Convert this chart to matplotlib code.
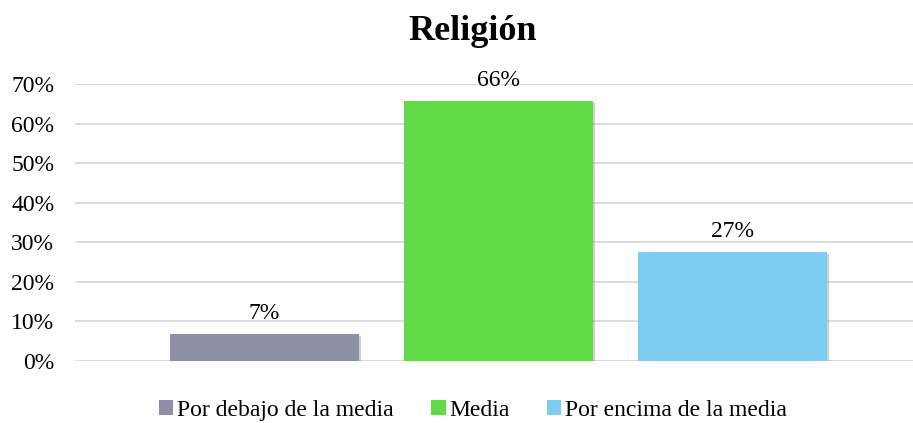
import numpy as np
import matplotlib
matplotlib.use("Agg")
import matplotlib.pyplot as plt
import matplotlib.patheffects as pe
from matplotlib.patches import Patch
from matplotlib.ticker import PercentFormatter

plt.rcParams['font.family'] = ['Liberation Serif', 'DejaVu Serif']

categorias = ['Por debajo de la media', 'Media', 'Por encima de la media']
valores = [0.068, 0.657, 0.275]
etiquetas = ['7%', '66%', '27%']
colores = ['#8E8FA6', '#62DA47', '#7ECDF0']

fig = plt.figure(figsize=(9.13, 4.23), dpi=100)
ax = fig.add_axes([75 / 913, (423 - 361) / 423, 838 / 913, (361 - 84) / 423])

x = np.arange(len(categorias))
barras = ax.bar(x, valores, width=0.81, color=colores, zorder=3)
for b in barras:
    b.set_path_effects([pe.SimplePatchShadow(offset=(1.5, -1.5), shadow_rgbFace='#666666', alpha=0.3), pe.Normal()])

for xi, v, t in zip(x, valores, etiquetas):
    ax.text(xi, v + 0.026, t, ha='center', va='bottom', fontsize=17)

ax.set_xlim((75 - 264.5) / 234, (913 - 264.5) / 234)
ax.set_ylim(0, 0.70)
ax.set_yticks(np.arange(0, 0.71, 0.10))
ax.yaxis.set_major_formatter(PercentFormatter(1.0, decimals=0))
ax.tick_params(axis='y', labelsize=17, length=0, pad=15)
ax.set_xticks([])
ax.grid(axis='y', color='#D9D9D9', linewidth=1.3, zorder=0)
for s in ax.spines.values():
    s.set_visible(False)

fig.text(473 / 913, 1 - 32 / 423, 'Religión', ha='center', va='center', fontsize=26, fontweight='bold')

manejadores = [Patch(facecolor=c) for c in colores]
fig.legend(handles=manejadores, labels=categorias, loc='center', bbox_to_anchor=(473 / 913, 1 - 410 / 423),
           ncol=3, frameon=False, fontsize=17, handlelength=0.6, handleheight=0.6,
           handletextpad=0.15, columnspacing=1.6)

fig.savefig('out.png', dpi=100)
